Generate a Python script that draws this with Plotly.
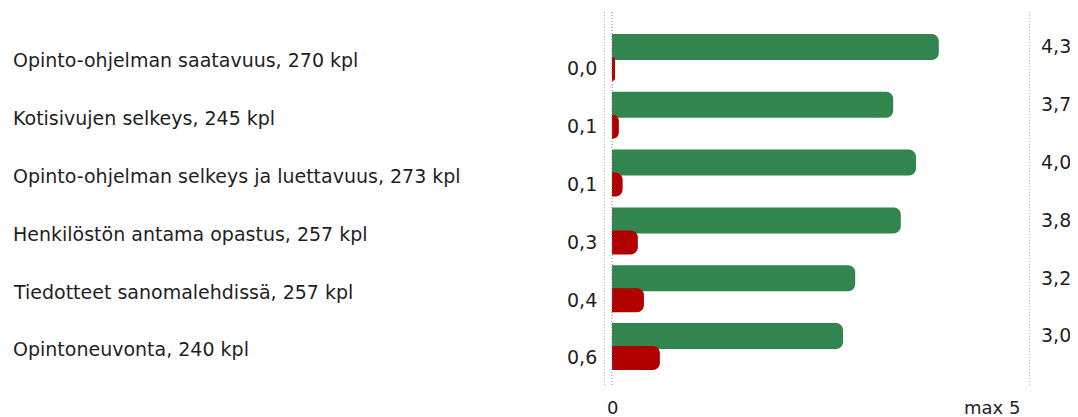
import plotly.graph_objects as go

categories = [
    "Opinto-ohjelman saatavuus, 270 kpl",
    "Kotisivujen selkeys, 245 kpl",
    "Opinto-ohjelman selkeys ja luettavuus, 273 kpl",
    "Henkilöstön antama opastus, 257 kpl",
    "Tiedotteet sanomalehdissä, 257 kpl",
    "Opintoneuvonta, 240 kpl",
]
green_values = [4.3, 3.7, 4.0, 3.8, 3.2, 3.04]
red_values = [0.04, 0.09, 0.14, 0.34, 0.42, 0.63]
axis_labels = ["0", "max 5"]

# page body has an 8px default margin, so the figure is drawn 8px in
PAGE_OFF = 8
W, H = 1078 - PAGE_OFF, 417 - PAGE_OFF


def xp(px):
    return (px - PAGE_OFF) / W


def yp(px):
    return 1 - (px - PAGE_OFF) / H


X0_PX, X_END_PX = 604.4, 1030.0
X_MIN, X_MAX = -0.1, 5.5
GROUP_PX = 57.8
TOP_CENTER_PX = 58.0 - PAGE_OFF

GREEN = "#33854f"
RED = "#b00000"
TEXT = "#1f1f1f"
FONT = "DejaVu Sans"

pos = list(range(len(categories)))

fig = go.Figure()
fig.add_trace(go.Bar(
    x=green_values, y=pos, orientation="h",
    width=26 / GROUP_PX, offset=-24 / GROUP_PX,
    marker=dict(color=GREEN, line=dict(width=0), cornerradius=7),
    hoverinfo="skip", showlegend=False,
))
fig.add_trace(go.Bar(
    x=red_values, y=pos, orientation="h",
    width=24 / GROUP_PX, offset=-1 / GROUP_PX,
    marker=dict(color=RED, line=dict(width=0), cornerradius=7),
    hoverinfo="skip", showlegend=False,
))

y_top = -TOP_CENTER_PX / GROUP_PX
y_bot = (H - TOP_CENTER_PX) / GROUP_PX

fig.update_layout(
    width=W, height=H,
    margin=dict(l=0, r=0, t=0, b=0),
    paper_bgcolor="white", plot_bgcolor="white",
    barmode="overlay",
    xaxis=dict(domain=[xp(X0_PX), xp(X_END_PX)], range=[X_MIN, X_MAX],
               visible=False, fixedrange=True),
    yaxis=dict(domain=[0, 1], range=[y_bot, y_top], visible=False, fixedrange=True),
    font=dict(family=FONT, color=TEXT),
)

# dotted vertical lines
for xv in [X_MIN, 0, X_MAX]:
    fig.add_shape(type="line", xref="x", yref="paper", x0=xv, x1=xv,
                  y0=yp(12), y1=yp(385),
                  line=dict(color="#7a7a7a", width=1, dash="1px,2px"))

for i, cat in enumerate(categories):
    fig.add_annotation(x=xp(11), xref="paper", y=i + 0.04, yref="y", text=cat,
                       showarrow=False, xanchor="left", yanchor="middle",
                       font=dict(size=19, family=FONT, color=TEXT))
    fig.add_annotation(x=xp(599), xref="paper", y=i + 0.18, yref="y",
                       text=f"{red_values[i]:.1f}".replace(".", ","),
                       showarrow=False, xanchor="right", yanchor="middle",
                       font=dict(size=19, family=FONT, color=TEXT))
    fig.add_annotation(x=xp(1039), xref="paper", y=i - 0.2, yref="y",
                       text=f"{green_values[i]:.1f}".replace(".", ","),
                       showarrow=False, xanchor="left", yanchor="middle",
                       font=dict(size=19, family=FONT, color=TEXT))

fig.add_annotation(x=0, xref="x", y=yp(407), yref="paper", text=axis_labels[0],
                   showarrow=False, xanchor="center", yanchor="middle",
                   font=dict(size=18, family=FONT, color=TEXT))
fig.add_annotation(x=5, xref="x", y=yp(407), yref="paper", text=axis_labels[1],
                   showarrow=False, xanchor="center", yanchor="middle",
                   font=dict(size=18, family=FONT, color=TEXT))

fig.write_html("out.html")
